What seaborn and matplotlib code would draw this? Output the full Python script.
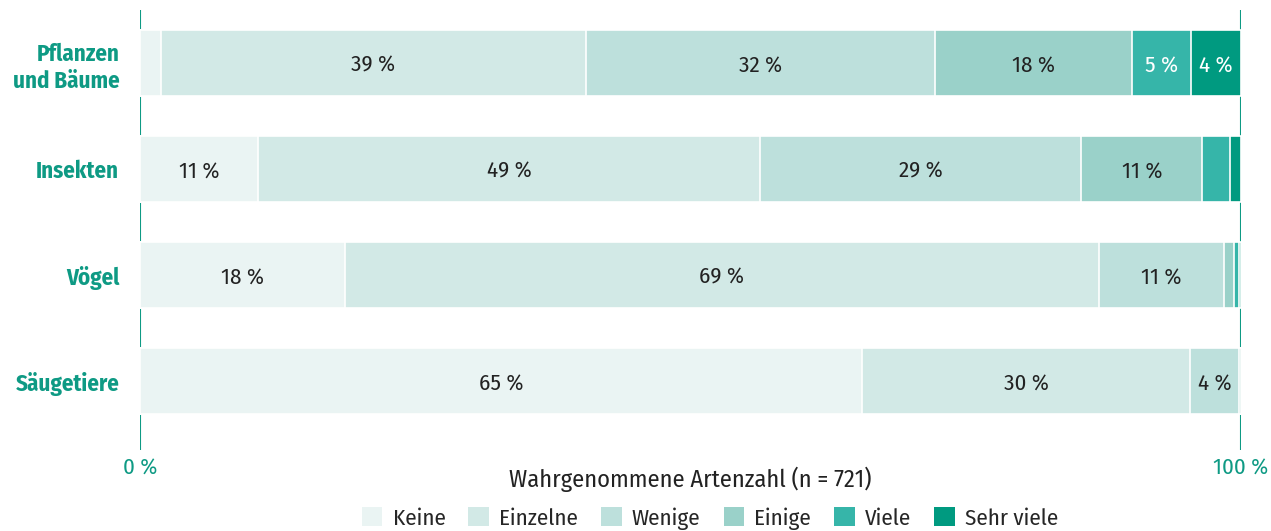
import matplotlib
matplotlib.use("Agg")
import matplotlib.pyplot as plt
from matplotlib import font_manager
from matplotlib.patches import Patch
import seaborn as sns
import pandas as pd

# data (percent)
categories = ["Pflanzen\nund Bäume", "Insekten", "Vögel", "Säugetiere"]
series = ["Keine", "Einzelne", "Wenige", "Einige", "Viele", "Sehr viele"]
keine = [1.9, 10.7, 18.6, 65.6]
einzelne = [38.6, 45.6, 68.5, 29.8]
wenige = [31.7, 29.2, 11.4, 4.4]
einige = [17.9, 11.0, 0.9, 0.2]
viele = [5.4, 2.5, 0.45, 0.0]
sehr_viele = [4.5, 1.0, 0.15, 0.0]

# printed labels in each segment
lab_keine = ["", "11 %", "18 %", "65 %"]
lab_einzelne = ["39 %", "49 %", "69 %", "30 %"]
lab_wenige = ["32 %", "29 %", "11 %", "4 %"]
lab_einige = ["18 %", "11 %", "", ""]
lab_viele = ["5 %", "", "", ""]
lab_sehr_viele = ["4 %", "", "", ""]

colors = ["#eaf4f3", "#d2e9e6", "#bde0dc", "#9ad1c9", "#36b5a9", "#009a80"]
text_colors = ["#222222", "#222222", "#222222", "#222222", "white", "white"]
teal = "#0e9a84"

sns.set_theme(style="white")
avail = {f.name for f in font_manager.fontManager.ttflist}
fam = [f for f in ["Fira Sans Condensed", "Liberation Sans Narrow", "DejaVu Sans"] if f in avail]
plt.rcParams["font.family"] = fam

values = [keine, einzelne, wenige, einige, viele, sehr_viele]
labels = [lab_keine, lab_einzelne, lab_wenige, lab_einige, lab_viele, lab_sehr_viele]

df = pd.DataFrame({s: v for s, v in zip(series, values)}, index=categories)
cum = df.cumsum(axis=1)

fig = plt.figure(figsize=(12.71, 5.31), dpi=100)
ax = fig.add_axes([0.1102, 0.1525, 0.8662, 0.8286])

# draw cumulative bars from the top segment down so they stack visually
for i in range(len(series) - 1, -1, -1):
    d = pd.DataFrame({"cat": categories, "val": cum[series[i]].values})
    sns.barplot(data=d, y="cat", x="val", orient="h", color=colors[i],
                width=0.62, edgecolor="white", linewidth=1.2, saturation=1,
                ax=ax, zorder=2)

# segment labels
for i, s in enumerate(series):
    starts = cum[s].values - df[s].values
    for j, txt in enumerate(labels[i]):
        if txt:
            ax.text(starts[j] + df[s].values[j] / 2, j + 0.02, txt, ha="center", va="center",
                    fontsize=16.5, color=text_colors[i], zorder=3)

ax.axvline(0, color=teal, lw=1.5, zorder=0)
ax.axvline(100, color=teal, lw=1.5, zorder=0)
ax.set_xlim(0, 100)
ax.set_ylim(3.65, -0.5)
sns.despine(ax=ax, left=True, bottom=True)
ax.set_xticks([0, 100])
ax.set_xticklabels(["0 %", "100 %"], color=teal, fontsize=16.5)
ax.tick_params(axis="x", length=0, pad=5)
ax.tick_params(axis="y", length=0, pad=15)
for t in ax.get_yticklabels():
    t.set_color(teal)
    t.set_fontweight("bold")
    t.set_fontsize(16.5)
    t.set_linespacing(1.25)
ax.set_ylabel("")
ax.set_xlabel("Wahrgenommene Artenzahl (n = 721)", fontsize=17.5, color="#222222", labelpad=-8)

handles = [Patch(facecolor=c, edgecolor="none") for c in colors]
fig.legend(handles, series, loc="center", bbox_to_anchor=(0.5586, 0.024), ncol=6,
           frameon=False, fontsize=16.5, handlelength=0.9, handleheight=0.9,
           handletextpad=0.45, columnspacing=1.0)

fig.savefig("out.png", dpi=100)
